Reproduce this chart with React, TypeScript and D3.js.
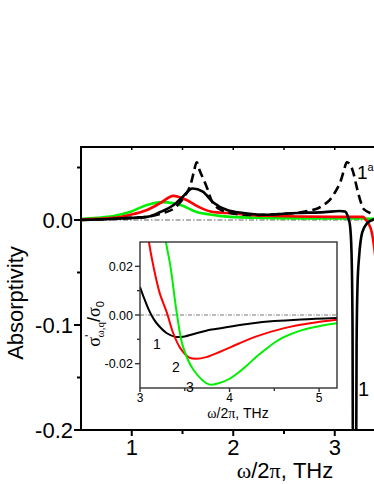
import { useEffect, useRef } from 'react'
import * as d3 from 'd3'

const W = 374
const H = 484
const FONT = '"Liberation Sans", Arial, sans-serif'
const SERIF = '"Liberation Serif", "Times New Roman", serif'

// main panel: absorptivity vs frequency (THz)
const freqDashed = [0.5, 0.8, 1.0, 1.15, 1.31, 1.4, 1.47, 1.53, 1.57, 1.61, 1.64, 1.67, 1.71, 1.74, 1.8, 1.87, 1.94, 2.1, 2.3, 2.5, 2.63, 2.75, 2.83, 2.9, 2.95, 3.0, 3.05, 3.09, 3.12, 3.15, 3.18, 3.21, 3.23, 3.26, 3.28, 3.32, 3.35, 3.4, 3.5]
const absDashed = [0.0, 0.001, 0.002, 0.003, 0.0067, 0.01, 0.016, 0.024, 0.031, 0.045, 0.055, 0.047, 0.038, 0.031, 0.016, 0.01, 0.0075, 0.005, 0.005, 0.006, 0.0067, 0.009, 0.011, 0.015, 0.019, 0.026, 0.035, 0.047, 0.055, 0.053, 0.046, 0.034, 0.026, 0.016, 0.011, 0.008, 0.0067, 0.005, 0.004]

const freqBlack = [0.5, 0.8, 1.0, 1.15, 1.28, 1.41, 1.5, 1.6, 1.7, 1.8, 1.94, 2.1, 2.29, 2.63, 2.9, 3.05, 3.1, 3.13, 3.15, 3.165, 3.175, 3.18, 3.21, 3.215, 3.225, 3.24, 3.27, 3.32, 3.37, 3.45, 3.5]
const absBlack = [0.0, 0.001, 0.002, 0.003, 0.0076, 0.014, 0.022, 0.03, 0.027, 0.017, 0.0095, 0.0067, 0.005, 0.0067, 0.0075, 0.0086, 0.008, 0.003, -0.005, -0.03, -0.1, -0.25, -0.25, -0.12, -0.06, -0.035, -0.012, -0.003, 0.0, 0.002, 0.002]

const freqRed = [0.5, 0.82, 0.98, 1.15, 1.28, 1.41, 1.54, 1.67, 1.8, 1.94, 2.3, 3.0, 3.28, 3.3, 3.33, 3.36, 3.38, 3.4, 3.42, 3.5]
const absRed = [0.0005, 0.002, 0.0048, 0.0095, 0.016, 0.023, 0.019, 0.012, 0.0076, 0.0067, 0.004, 0.003, 0.003, 0.001, -0.003, -0.01, -0.02, -0.035, -0.055, -0.1]

const freqGreen = [0.5, 0.66, 0.82, 0.98, 1.15, 1.3, 1.48, 1.64, 1.8, 1.97, 2.3, 3.0, 3.3, 3.4, 3.5]
const absGreen = [0.001, 0.002, 0.0038, 0.0076, 0.0143, 0.017, 0.0143, 0.0076, 0.0048, 0.003, 0.002, 0.0015, 0.0015, 0.001, 0.0]

// inset: sigma'/sigma0 vs frequency (THz)
const insetFreq1 = [3.0, 3.05, 3.1, 3.15, 3.2, 3.3, 3.4, 3.5, 3.6, 3.8, 4.0, 4.24, 4.5, 4.8, 5.2]
const insetSig1 = [0.0115, 0.0065, 0.002, -0.0015, -0.004, -0.0075, -0.009, -0.0088, -0.0078, -0.006, -0.0048, -0.0035, -0.0025, -0.0018, -0.0012]

const insetFreq2 = [3.08, 3.1, 3.15, 3.22, 3.3, 3.37, 3.45, 3.55, 3.63, 3.75, 3.9, 4.1, 4.3, 4.6, 4.9, 5.2]
const insetSig2 = [0.036, 0.03, 0.02, 0.009, 0.001, -0.0074, -0.0136, -0.0175, -0.018, -0.0172, -0.015, -0.0118, -0.0088, -0.0055, -0.0034, -0.002]

const insetFreq3 = [3.27, 3.29, 3.34, 3.41, 3.48, 3.6, 3.77, 3.9, 4.0, 4.1, 4.2, 4.3, 4.4, 4.5, 4.6, 4.8, 5.0, 5.2]
const insetSig3 = [0.036, 0.03, 0.02, 0.001, -0.013, -0.0227, -0.0285, -0.0278, -0.0262, -0.0236, -0.0205, -0.0172, -0.0142, -0.0114, -0.0092, -0.0063, -0.0046, -0.0034]

const mainXTicks = [1, 2, 3]
const mainXMinor = [1.5, 2.5]
const mainYTicks = [-0.2, -0.1, 0.0]
const mainYMinor = [-0.15, -0.05, 0.05]
const insetXTicks = [3, 4, 5]
const insetXMinor = [3.5, 4.5]
const insetYTicks = [-0.02, 0.0, 0.02]
const insetYMinor = [-0.01, 0.01]

export default function App() {
  const svgRef = useRef<SVGSVGElement>(null)

  useEffect(() => {
    if (!svgRef.current) return
    const svg = d3.select(svgRef.current)
    svg.selectAll('*').remove()

    // main scales
    const x = d3.scaleLinear().domain([0.5, 3.6]).range([81, 81 + 3.1 * 101.5])
    const y = d3.scaleLinear().domain([-0.2, 0.07]).range([430, 146.5])
    const left = 81, top = 147, bottom = 430

    const defs = svg.append('defs')
    defs.append('clipPath').attr('id', 'mainClip')
      .append('rect').attr('x', left).attr('y', top).attr('width', W - left).attr('height', bottom - top)

    // zero line
    svg.append('line')
      .attr('x1', left).attr('x2', W).attr('y1', y(0)).attr('y2', y(0))
      .attr('stroke', '#666').attr('stroke-width', 1.2).attr('stroke-dasharray', '5,2,1.5,2')

    const smooth = d3.line<[number, number]>()
      .x(d => x(d[0])).y(d => y(d[1]))
      .curve(d3.curveCatmullRom.alpha(0.5))
    // monotone for the curves with the sharp dip, so nothing overshoots
    const sharp = d3.line<[number, number]>()
      .x(d => x(d[0])).y(d => y(d[1]))
      .curve(d3.curveMonotoneX)

    const curves = [
      { f: freqGreen, v: absGreen, color: '#00ee00', dash: null, gen: smooth },
      { f: freqRed, v: absRed, color: '#ff0000', dash: null, gen: sharp },
      { f: freqBlack, v: absBlack, color: '#000', dash: null, gen: sharp },
      { f: freqDashed, v: absDashed, color: '#000', dash: '9,5', gen: smooth },
    ]
    const gMain = svg.append('g').attr('clip-path', 'url(#mainClip)')
    curves.forEach(c => {
      gMain.append('path')
        .datum(c.f.map((f, i) => [f, c.v[i]] as [number, number]))
        .attr('d', c.gen)
        .attr('fill', 'none')
        .attr('stroke', c.color)
        .attr('stroke-width', 2.6)
        .attr('stroke-dasharray', c.dash)
    })

    // frame
    svg.append('path')
      .attr('d', `M${W + 5},${top}H${left}V${bottom}H${W + 5}`)
      .attr('fill', 'none').attr('stroke', '#000').attr('stroke-width', 2)

    // main x axis ticks
    const xAxis = svg.append('g').attr('font-family', FONT)
    mainXTicks.forEach(t => {
      xAxis.append('line').attr('x1', x(t)).attr('x2', x(t)).attr('y1', bottom).attr('y2', bottom + 6)
        .attr('stroke', '#000').attr('stroke-width', 2)
      xAxis.append('text').attr('x', x(t)).attr('y', bottom + 25).attr('text-anchor', 'middle')
        .attr('font-size', 22).text(d3.format('d')(t))
    })
    mainXMinor.forEach(t => {
      xAxis.append('line').attr('x1', x(t)).attr('x2', x(t)).attr('y1', bottom).attr('y2', bottom + 4)
        .attr('stroke', '#000').attr('stroke-width', 2)
    })
    ;[...mainXTicks, ...mainXMinor].forEach(t => {
      xAxis.append('line').attr('x1', x(t)).attr('x2', x(t)).attr('y1', top).attr('y2', top + 3)
        .attr('stroke', '#000').attr('stroke-width', 1.5)
    })

    // main y axis ticks
    const yAxis = svg.append('g').attr('font-family', FONT)
    mainYTicks.forEach(t => {
      yAxis.append('line').attr('x1', left - 7).attr('x2', left).attr('y1', y(t)).attr('y2', y(t))
        .attr('stroke', '#000').attr('stroke-width', 2)
      yAxis.append('text').attr('x', left - 8).attr('y', y(t)).attr('dy', '0.36em').attr('text-anchor', 'end')
        .attr('font-size', 22).text(d3.format('.1f')(t).replace('−', '-'))
    })
    mainYMinor.forEach(t => {
      yAxis.append('line').attr('x1', left - 4).attr('x2', left).attr('y1', y(t)).attr('y2', y(t))
        .attr('stroke', '#000').attr('stroke-width', 2)
    })

    // axis labels
    svg.append('text')
      .attr('transform', `translate(23,${303}) rotate(-90)`)
      .attr('text-anchor', 'middle').attr('font-family', FONT).attr('font-size', 22)
      .text('Absorptivity')

    const xl = svg.append('text').attr('x', 285).attr('y', 478).attr('text-anchor', 'middle')
      .attr('font-family', FONT).attr('font-size', 22)
    xl.append('tspan').attr('font-family', SERIF).text('ω')
    xl.append('tspan').text('/2')
    xl.append('tspan').attr('font-family', SERIF).text('π')
    xl.append('tspan').text(', THz')

    // curve labels
    svg.append('text').attr('x', 358).attr('y', 396).attr('font-family', FONT).attr('font-size', 20).text('1')
    const la = svg.append('text').attr('x', 357).attr('y', 179).attr('font-family', FONT).attr('font-size', 19)
    la.append('tspan').text('1')
    la.append('tspan').attr('font-size', 11).attr('dy', -8).text('a')

    // ---------------- inset ----------------
    const ix = d3.scaleLinear().domain([3, 5.2]).range([140, 337])
    const iy = d3.scaleLinear().domain([-0.03, 0.03]).range([388, 242])
    defs.append('clipPath').attr('id', 'insetClip')
      .append('rect').attr('x', 140).attr('y', 242).attr('width', 197).attr('height', 146)

    svg.append('rect').attr('x', 140).attr('y', 242).attr('width', 197).attr('height', 146).attr('fill', '#fff')

    svg.append('line')
      .attr('x1', 140).attr('x2', 337).attr('y1', iy(0)).attr('y2', iy(0))
      .attr('stroke', '#666').attr('stroke-width', 0.9).attr('stroke-dasharray', '4,1.5,1,1.5')

    const iline = d3.line<[number, number]>()
      .x(d => ix(d[0])).y(d => iy(d[1]))
      .curve(d3.curveCatmullRom.alpha(0.5))
    const insetCurves = [
      { f: insetFreq1, v: insetSig1, color: '#000' },
      { f: insetFreq2, v: insetSig2, color: '#ff0000' },
      { f: insetFreq3, v: insetSig3, color: '#00ee00' },
    ]
    const gInset = svg.append('g').attr('clip-path', 'url(#insetClip)')
    insetCurves.forEach(c => {
      gInset.append('path')
        .datum(c.f.map((f, i) => [f, c.v[i]] as [number, number]))
        .attr('d', iline)
        .attr('fill', 'none')
        .attr('stroke', c.color)
        .attr('stroke-width', 2)
    })

    svg.append('rect').attr('x', 140).attr('y', 242).attr('width', 197).attr('height', 146)
      .attr('fill', 'none').attr('stroke', '#333').attr('stroke-width', 1.4)

    const ia = svg.append('g').attr('font-family', FONT)
    insetXTicks.forEach(t => {
      ia.append('line').attr('x1', ix(t)).attr('x2', ix(t)).attr('y1', 388).attr('y2', 392)
        .attr('stroke', '#333').attr('stroke-width', 1.4)
      ia.append('text').attr('x', ix(t)).attr('y', 402).attr('text-anchor', 'middle')
        .attr('font-size', 12).text(d3.format('d')(t))
    })
    insetXMinor.forEach(t => {
      ia.append('line').attr('x1', ix(t)).attr('x2', ix(t)).attr('y1', 388).attr('y2', 391)
        .attr('stroke', '#333').attr('stroke-width', 1.4)
    })
    insetYTicks.forEach(t => {
      ia.append('line').attr('x1', 135).attr('x2', 140).attr('y1', iy(t)).attr('y2', iy(t))
        .attr('stroke', '#333').attr('stroke-width', 1.4)
      ia.append('text').attr('x', 133).attr('y', iy(t)).attr('dy', '0.36em').attr('text-anchor', 'end')
        .attr('font-size', 12.5).text(d3.format('.2f')(t).replace('−', '-'))
    })
    insetYMinor.forEach(t => {
      ia.append('line').attr('x1', 137).attr('x2', 140).attr('y1', iy(t)).attr('y2', iy(t))
        .attr('stroke', '#333').attr('stroke-width', 1.4)
    })

    const ixl = svg.append('text').attr('x', 238).attr('y', 418).attr('text-anchor', 'middle')
      .attr('font-family', FONT).attr('font-size', 14)
    ixl.append('tspan').attr('font-family', SERIF).text('ω')
    ixl.append('tspan').text('/2')
    ixl.append('tspan').attr('font-family', SERIF).text('π')
    ixl.append('tspan').text(', THz')

    const iyl = svg.append('text')
      .attr('transform', 'translate(100,324) rotate(-90)')
      .attr('text-anchor', 'middle').attr('font-family', SERIF).attr('font-size', 18)
    iyl.append('tspan').text('σ')
    iyl.append('tspan').attr('font-family', FONT).attr('font-size', 13).attr('dy', -6).text("'")
    iyl.append('tspan').attr('font-size', 11).attr('dy', 10).attr('dx', -3).text('ω,q')
    iyl.append('tspan').attr('font-family', FONT).attr('dy', -4).text('/')
    iyl.append('tspan').text('σ')
    iyl.append('tspan').attr('font-family', FONT).attr('font-size', 11).attr('dy', 4).text('0')

    const il = svg.append('g').attr('font-family', FONT).attr('font-size', 14)
    il.append('text').attr('x', 153).attr('y', 349).text('1')
    il.append('text').attr('x', 172).attr('y', 372).text('2')
    il.append('text').attr('x', 186).attr('y', 392).text('3')
  }, [])

  return (
    <div style={{ position: 'absolute', left: 0, top: 0 }}>
      <svg ref={svgRef} width={W} height={H} style={{ display: 'block', background: '#fff' }} />
    </div>
  )
}
